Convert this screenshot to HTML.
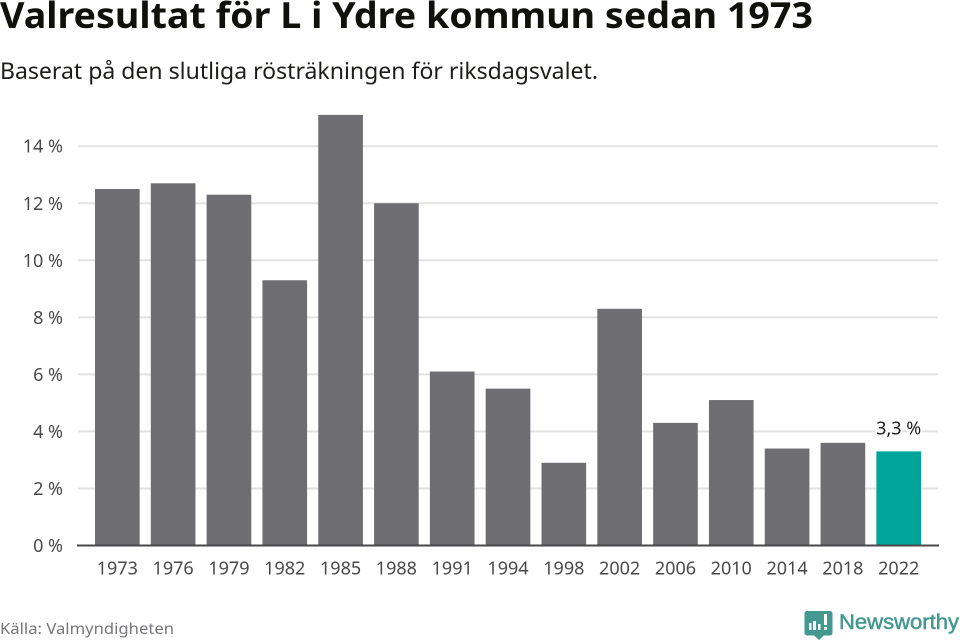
<!DOCTYPE html>
<html lang="sv">
<head>
<meta charset="utf-8">
<title>Valresultat för L i Ydre kommun sedan 1973</title>
<style>
html,body{margin:0;padding:0;background:#fff;}
body{width:960px;height:640px;overflow:hidden;}
svg{display:block;font-family:"Noto Sans","Liberation Sans",sans-serif;}
</style>
</head>
<body>
<svg id="chart" width="960" height="640" viewBox="0 0 960 640" xmlns="http://www.w3.org/2000/svg">
  <text x="0" y="28" font-size="36" font-weight="700" fill="#10100c" textLength="813" lengthAdjust="spacingAndGlyphs">Valresultat för L i Ydre kommun sedan 1973</text>
  <text x="0" y="79" font-size="22.5" fill="#1c1c1a" textLength="598" lengthAdjust="spacingAndGlyphs">Baserat på den slutliga rösträkningen för riksdagsvalet.</text>
  <g id="grid"></g>
  <g id="yticks"></g>
  <g id="bars"></g>
  <g id="xticks"></g>
  <line x1="77" x2="939" y1="545.5" y2="545.5" stroke="#48484a" stroke-width="2"></line>
  <g id="labels"></g>
  <text x="0" y="634" font-size="15.5" fill="#77777a" textLength="174" lengthAdjust="spacingAndGlyphs">Källa: Valmyndigheten</text>
  <g>
    <path d="M807 611h23a2.500 2.500 0 0 1 2.500 2.500v19.500a2.500 2.500 0 0 1-2.500 2.500h-6l-5 4.500-5-4.500h-7a2.500 2.500 0 0 1-2.500-2.500v-19.500a2.500 2.500 0 0 1 2.500-2.500z" fill="#43998f"></path>
    <rect x="809" y="623" width="2.500" height="7" fill="#fff"></rect>
    <rect x="813" y="621" width="3" height="9" fill="#fff"></rect>
    <rect x="818" y="624" width="2.500" height="6" fill="#fff"></rect>
    <rect x="824" y="614" width="3" height="11" fill="#fff"></rect>
    <rect x="824" y="627" width="3" height="3" fill="#fff"></rect>
    <text x="839" y="629" font-size="21.500" fill="#43998f" stroke="#43998f" stroke-width="0.5" textLength="120" lengthAdjust="spacingAndGlyphs" font-family="'Liberation Sans',sans-serif">Newsworthy</text>
  </g>
</svg>
<script>
const categories = ["1973","1976","1979","1982","1985","1988","1991","1994","1998","2002","2006","2010","2014","2018","2022"];
const seriesValues = [12.5,12.7,12.3,9.3,15.1,12.0,6.1,5.5,2.9,8.3,4.3,5.1,3.4,3.6,3.3];
const yTicks = [0,2,4,6,8,10,12,14];
const yTickLabels = ["0 %","2 %","4 %","6 %","8 %","10 %","12 %","14 %"];
const highlightCategory = "2022";
const highlightLabel = "3,3 %";

const NS = "http://www.w3.org/2000/svg";
const plotLeft = 78, plotRight = 938, plotBottom = 545.5, unitHeight = 28.52;
const outerPad = 17, bandStep = (plotRight - plotLeft - 2 * outerPad + 11.2) / categories.length;
const barWidth = bandStep * 0.8;

function yScale(v) { return plotBottom - v * unitHeight; }
function xScale(i) { return plotLeft + outerPad + i * bandStep; }
function make(tag, attrs, parent, txt) {
  const el = document.createElementNS(NS, tag);
  for (const k in attrs) el.setAttribute(k, attrs[k]);
  if (txt !== undefined) el.textContent = txt;
  parent.appendChild(el);
  return el;
}

const grid = document.getElementById("grid");
const yG = document.getElementById("yticks");
const barsG = document.getElementById("bars");
const xG = document.getElementById("xticks");
const labelsG = document.getElementById("labels");

yTicks.forEach(function (t, i) {
  if (t !== 0) {
    const line = make("line", {x1: plotLeft, x2: plotRight, y1: yScale(t), y2: yScale(t), stroke: "#e2e2e2", "stroke-width": 2}, grid);
    
    
  }
  const lab = make("text", {x: 63, y: yScale(t) + 6.5, "text-anchor": "end", "font-size": 18, fill: "#48484a"}, yG, yTickLabels[i]);
  
  
});

categories.forEach(function (c, i) {
  const v = seriesValues[i];
  const isHi = c === highlightCategory;
  const bar = make("rect", {x: xScale(i), y: yScale(v), width: barWidth, height: plotBottom - yScale(v), fill: isHi ? "#00a59a" : "#6e6d72"}, barsG);
  
  
  const cx = xScale(i) + barWidth / 2;
  const lab = make("text", {x: cx, y: 574.5, "text-anchor": "middle", "font-size": 18, fill: "#48484a"}, xG, c);
  
  
  if (isHi) {
    const val = make("text", {x: cx, y: yScale(v) - 17, "text-anchor": "middle", "font-size": 18, fill: "#1c1c1a", stroke: "#fff", "stroke-width": 4, "paint-order": "stroke"}, labelsG, highlightLabel);
    
    
  }
});
</script>
</body>
</html>
